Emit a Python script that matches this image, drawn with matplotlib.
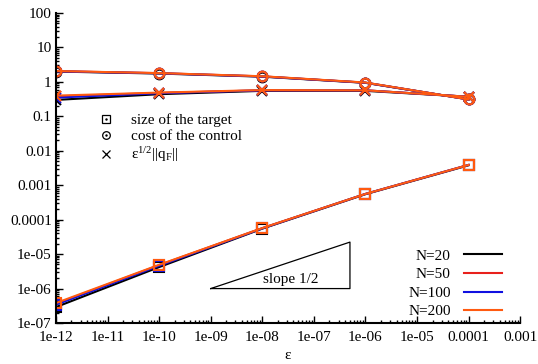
import matplotlib
matplotlib.use('Agg')
import matplotlib.pyplot as plt
from matplotlib.lines import Line2D
from matplotlib.ticker import LogLocator, FuncFormatter, NullFormatter

plt.rcParams['font.family'] = ['Liberation Serif', 'DejaVu Serif']
plt.rcParams['mathtext.fontset'] = 'custom'
plt.rcParams['mathtext.rm'] = 'Liberation Serif'
plt.rcParams['mathtext.it'] = 'Liberation Serif'

# epsilon values
eps = [1e-12, 1e-10, 1e-8, 1e-6, 1e-4]

# size of the target
target_20 = [2.9e-7, 4.2e-6, 5.5e-5, 5.5e-4, 3.8e-3]
target_50 = [3.6e-7, 4.8e-6, 5.7e-5, 5.6e-4, 3.9e-3]
target_100 = [3.4e-7, 4.6e-6, 5.6e-5, 5.6e-4, 3.9e-3]
target_200 = [3.8e-7, 4.9e-6, 5.7e-5, 5.6e-4, 3.9e-3]

# cost of the control
cost_20 = [2.0, 1.75, 1.42, 0.94, 0.31]
cost_50 = [2.05, 1.8, 1.45, 0.95, 0.31]
cost_100 = [2.03, 1.78, 1.44, 0.95, 0.31]
cost_200 = [2.07, 1.8, 1.46, 0.96, 0.31]

# eps^{1/2} ||q_F||
qf_20 = [0.30, 0.44, 0.55, 0.55, 0.37]
qf_50 = [0.38, 0.48, 0.57, 0.57, 0.37]
qf_100 = [0.35, 0.47, 0.57, 0.57, 0.37]
qf_200 = [0.40, 0.49, 0.58, 0.57, 0.37]

labels = ['N=20', 'N=50', 'N=100', 'N=200']
colors = ['black', '#e8201c', '#1010e0', '#ff5a10']
targets = [target_20, target_50, target_100, target_200]
costs = [cost_20, cost_50, cost_100, cost_200]
qfs = [qf_20, qf_50, qf_100, qf_200]

# slope triangle corners (eps range)
tri_x = [1e-9, 5e-7]
tri_y0 = 1e-6

fig = plt.figure(figsize=(5.38, 3.64), dpi=100)
ax = fig.add_axes([0.104, 0.1126, 0.863, 0.8516])

for lab, c, t, co, q in zip(labels, colors, targets, costs, qfs):
    ax.plot(eps, t, '-', color=c, lw=1.5, marker='s', ms=7, mfc='none', mec=c, mew=1.5)
    ax.plot(eps, co, '-', color=c, lw=1.5, marker='o', ms=7, mfc='none', mec=c, mew=1.5)
    ax.plot(eps, q, '-', color=c, lw=1.5, marker='x', ms=7, mec=c, mew=1.5)

# slope 1/2 triangle
ty1 = tri_y0 * (tri_x[1] / tri_x[0]) ** 0.5
ax.plot([tri_x[0], tri_x[1], tri_x[1], tri_x[0]], [tri_y0, tri_y0, ty1, tri_y0],
        color='black', lw=0.9)
ax.text(3.5e-8, 1.8e-6, 'slope 1/2', fontsize=11, ha='center', va='center')

ax.set_xscale('log')
ax.set_yscale('log')
ax.set_xlim(1e-12, 1e-3)
ax.set_ylim(1e-7, 100)

fmt = FuncFormatter(lambda v, p: '%g' % v)
ax.xaxis.set_major_locator(LogLocator(base=10, numticks=20))
ax.yaxis.set_major_locator(LogLocator(base=10, numticks=20))
ax.xaxis.set_minor_locator(LogLocator(base=10, subs=range(2, 10), numticks=20))
ax.yaxis.set_minor_locator(LogLocator(base=10, subs=range(2, 10), numticks=20))
ax.xaxis.set_major_formatter(fmt)
ax.yaxis.set_major_formatter(fmt)
ax.xaxis.set_minor_formatter(NullFormatter())
ax.yaxis.set_minor_formatter(NullFormatter())
ax.tick_params(which='both', direction='in', labelsize=11, width=1)
ax.tick_params(which='major', length=5)
ax.tick_params(which='minor', length=2.5)
ax.tick_params(axis='x', pad=6)
ax.tick_params(axis='y', pad=3)
ax.spines['top'].set_visible(False)
ax.spines['right'].set_visible(False)
ax.spines['left'].set_linewidth(1.5)
ax.spines['bottom'].set_linewidth(1.5)

ax.set_xlabel('ε', fontsize=11, labelpad=3)

# marker legend
mk_handles = [
    (Line2D([], [], ls='none', marker='s', ms=5.5, mfc='none', mec='black', mew=0.9),
     Line2D([], [], ls='none', marker='.', ms=1.5, color='black')),
    (Line2D([], [], ls='none', marker='o', ms=5.5, mfc='none', mec='black', mew=0.9),
     Line2D([], [], ls='none', marker='.', ms=1.5, color='black')),
    Line2D([], [], ls='none', marker='x', ms=6, mec='black', mew=0.9),
]
mk_labels = ['size of the target', 'cost of the control', r'$\mathrm{\varepsilon}^{1/2}$||q$_\mathrm{F}$||']
leg1 = ax.legend(mk_handles, mk_labels, loc='center left', bbox_to_anchor=(0.07, 0.595),
                 frameon=False, fontsize=11, handlelength=1.3, handletextpad=1.0,
                 labelspacing=0.15, borderpad=0)
ax.add_artist(leg1)

# line legend
ln_handles = [Line2D([], [], color=c, lw=1.5) for c in colors]
ax.legend(ln_handles, labels, loc='lower right', bbox_to_anchor=(0.977, -0.01),
          frameon=False, fontsize=11, markerfirst=False, handlelength=2.45,
          handletextpad=0.9, labelspacing=0.32, borderpad=0)

plt.savefig('out.png', dpi=100)
plt.close()
